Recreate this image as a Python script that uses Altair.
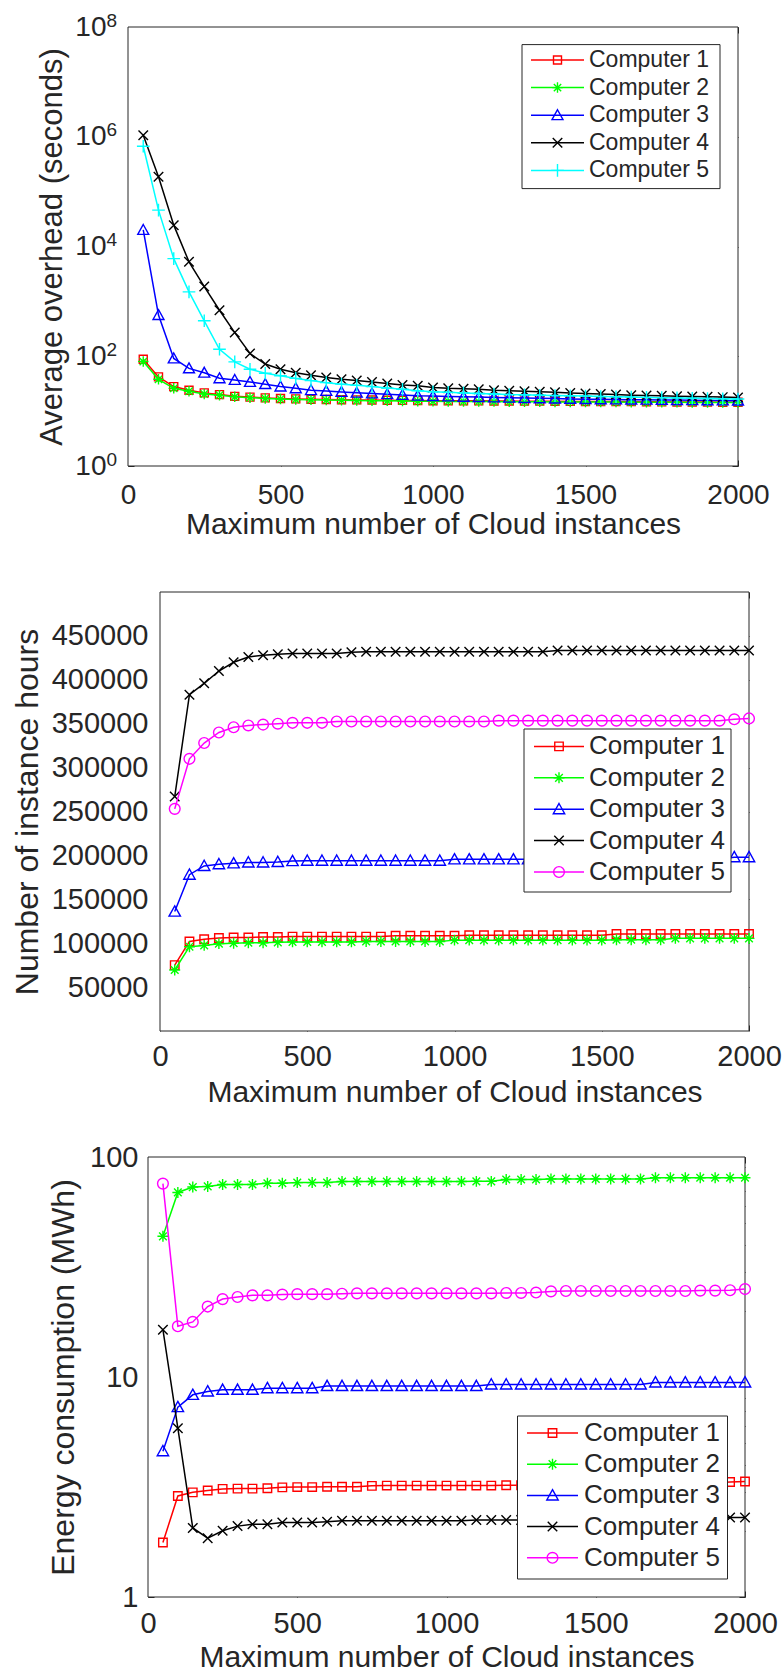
import altair as alt
import pandas as pd

FONT = "Liberation Sans"
INK = "#262626"
LW = 1.5          # line width of the series
MW = 1.4          # stroke width of the markers
CANVAS_W, CANVAS_H = 784, 1675

# x grid shared by all three panels: maximum number of Cloud instances
X_INSTANCES = [50, 100, 150, 200, 250, 300, 350, 400, 450, 500,
               550, 600, 650, 700, 750, 800, 850, 900, 950, 1000,
               1050, 1100, 1150, 1200, 1250, 1300, 1350, 1400, 1450, 1500,
               1550, 1600, 1650, 1700, 1750, 1800, 1850, 1900, 1950, 2000]
X_TICKS = [0, 500, 1000, 1500, 2000]
NAMES = ["Computer 1", "Computer 2", "Computer 3", "Computer 4", "Computer 5"]
X_TITLE = "Maximum number of Cloud instances"

# --- Average overhead (seconds) ---
OVERHEAD_C1 = [88, 42, 28, 24, 21.5, 20, 18.6, 18, 17.4, 17, 16.7, 16.5, 16.3, 16.1, 16, 15.9,
               15.8, 15.7, 15.6, 15.5, 15.45, 15.4, 15.4, 15.3, 15.25, 15.2, 15.2, 15.1, 15.05,
               15, 14.95, 14.9, 14.9, 14.8, 14.75, 14.7, 14.7, 14.6, 14.55, 14.5]
OVERHEAD_C2 = [80, 38, 26, 23, 20.5, 19.5, 18.2, 17.6, 17, 16.6, 16.3, 16.1, 15.9, 15.8, 15.6,
               15.5, 15.4, 15.3, 15.2, 15.1, 15.05, 15, 14.95, 14.9, 14.85, 14.8, 14.75, 14.7,
               14.7, 14.65, 14.6, 14.6, 14.55, 14.5, 14.5, 14.45, 14.4, 14.4, 14.35, 14.3]
OVERHEAD_C3 = [20000, 562, 91, 60, 50, 39.6, 37, 34, 31, 28, 26, 24, 23.3, 22.3, 21.6, 21,
               20.3, 19.7, 19.1, 18.8, 18.5, 18.2, 18, 17.7, 17.5, 17.3, 17.1, 16.9, 16.7,
               16.5, 16.4, 16.3, 16.2, 16.1, 16, 15.9, 15.8, 15.7, 15.6, 15.5]
OVERHEAD_C4 = [1.07e6, 1.86e5, 2.45e4, 5250, 1860, 690, 270, 112, 72, 58, 50, 45, 41, 38, 36,
               34, 32, 30, 29, 27, 26, 25.5, 25, 24, 23.5, 23, 22.5, 22, 21.5, 21, 20.5, 20,
               19.5, 19.2, 19, 18.7, 18.4, 18.2, 18, 17.8]
OVERHEAD_C5 = [6.7e5, 4.6e4, 6000, 1490, 443, 134, 79, 58, 49, 44, 39.5, 36, 33, 31, 29.5, 28,
               26.3, 25, 23.5, 22.5, 22, 21.5, 21, 20.5, 20, 19.8, 19.5, 19.2, 19, 18.8, 18.5,
               18.3, 18, 17.8, 17.6, 17.4, 17.2, 17, 16.8, 16.6]

# --- Number of instance hours ---
HOURS_C1 = [75000, 102000, 104500, 106000, 106500, 106500, 107000, 107000, 107500, 107500,
            107500, 107500, 107500, 107500, 107500, 108500, 108500, 108500, 108500, 108500,
            109000, 109000, 109000, 109000, 109000, 109000, 109000, 109000, 109000, 109000,
            110500, 110500, 110500, 110500, 110500, 110500, 110500, 110500, 110500, 110500]
HOURS_C2 = [69500, 96000, 97500, 99500, 100000, 100500, 100500, 101000, 101500, 101500,
            101500, 101500, 101500, 102000, 102000, 102000, 102000, 102000, 102000, 103500,
            103500, 103500, 103500, 103500, 103500, 103500, 103500, 103500, 103500, 103500,
            104000, 104000, 104000, 104000, 105500, 105500, 105500, 105500, 105500, 105500]
HOURS_C3 = [136000, 178000, 188000, 190000, 191000, 192000, 192000, 192500, 193500, 194000,
            194000, 194000, 194000, 194000, 194000, 194000, 194000, 194000, 194000, 195500,
            195500, 195500, 195500, 195500, 195500, 195500, 196000, 196000, 196000, 196000,
            196000, 196000, 196000, 196000, 196000, 196000, 196000, 196000, 198000, 198000]
HOURS_C4 = [267000, 383000, 396000, 410000, 420000, 426000, 428000, 429000, 430000, 430000,
            430000, 430000, 431500, 432000, 432000, 432000, 432000, 432000, 432000, 432000,
            432000, 432000, 432000, 432000, 432000, 432000, 433500, 433500, 433500, 433500,
            433500, 433500, 433500, 433500, 433500, 433500, 433500, 433500, 433500, 433500]
HOURS_C5 = [253000, 310000, 328000, 340000, 346000, 348000, 349000, 350000, 351000, 351000,
            351000, 352500, 352500, 352500, 352500, 352500, 352500, 352500, 352500, 352500,
            352500, 352500, 353500, 353500, 353500, 353500, 353500, 353500, 353500, 353500,
            353500, 353500, 353500, 353500, 353500, 353500, 353500, 353500, 355000, 356000]

# --- Energy consumption (MWh) ---
ENERGY_C1 = [1.77, 2.88, 2.99, 3.05, 3.1, 3.11, 3.11, 3.12, 3.15, 3.16, 3.16, 3.17, 3.17, 3.17,
             3.2, 3.21, 3.21, 3.21, 3.21, 3.21, 3.21, 3.21, 3.21, 3.22, 3.22, 3.23, 3.24, 3.24,
             3.25, 3.25, 3.26, 3.26, 3.27, 3.28, 3.28, 3.29, 3.3, 3.3, 3.33, 3.35]
ENERGY_C2 = [43.6, 69, 73, 73.5, 75, 75, 75, 76, 76, 76.5, 76.5, 76.5, 77.4, 77.4, 77.4, 77.4,
             77.4, 77.4, 77.4, 77.4, 77.4, 77.5, 77.5, 79, 79, 79, 79.5, 79.5, 79.5, 79.5, 79.5,
             79.5, 79.5, 80.5, 80.5, 80.5, 80.5, 80.5, 80.5, 80.5]
ENERGY_C3 = [4.6, 7.3, 8.3, 8.6, 8.75, 8.75, 8.75, 8.9, 8.9, 8.9, 8.9, 9.1, 9.1, 9.1, 9.1, 9.1,
             9.1, 9.1, 9.1, 9.1, 9.1, 9.1, 9.25, 9.25, 9.25, 9.25, 9.25, 9.25, 9.25, 9.25, 9.25,
             9.25, 9.25, 9.45, 9.45, 9.45, 9.45, 9.45, 9.45, 9.45]
ENERGY_C4 = [16.4, 5.85, 2.06, 1.85, 2.0, 2.1, 2.14, 2.14, 2.18, 2.18, 2.18, 2.2, 2.22, 2.22,
             2.22, 2.22, 2.22, 2.22, 2.22, 2.22, 2.22, 2.24, 2.24, 2.24, 2.24, 2.24, 2.25, 2.25,
             2.26, 2.26, 2.26, 2.27, 2.27, 2.27, 2.28, 2.28, 2.28, 2.28, 2.3, 2.3]
ENERGY_C5 = [75.7, 17.0, 17.8, 20.9, 22.6, 23.1, 23.5, 23.5, 23.7, 23.8, 23.8, 23.8, 23.9, 24.0,
             24.0, 24.0, 24.0, 24.0, 24.0, 24.0, 24.0, 24.0, 24.0, 24.1, 24.1, 24.2, 24.5, 24.6,
             24.6, 24.6, 24.6, 24.6, 24.6, 24.6, 24.6, 24.6, 24.7, 24.7, 24.8, 25.1]

# Marker glyphs as SVG paths in unit coordinates (scaled by sqrt(size)/2)
SQUARE = "M-1,-1H1V1H-1Z"
STAR = "M0,-1V1M-1,0H1M-0.7,-0.7L0.7,0.7M-0.7,0.7L0.7,-0.7"
TRIANGLE = "M0,-1L1,0.8L-1,0.8Z"
CROSS = "M-1,-1L1,1M-1,1L1,-1"
PLUS = "M0,-1V1M-1,0H1"

MARKERS_OVERHEAD = [("#ff0000", SQUARE, 64), ("#00ff00", STAR, 110), ("#0000ff", TRIANGLE, 120),
                    ("#000000", CROSS, 90), ("#00ffff", PLUS, 160)]
MARKERS_OTHER = [("#ff0000", SQUARE, 72), ("#00ff00", STAR, 120), ("#0000ff", TRIANGLE, 130),
                 ("#000000", CROSS, 90), ("#ff00ff", "circle", 115)]

ONE = pd.DataFrame({"k": [0]})


def axis(**kw):
    base = dict(domain=False, grid=False, tickColor=INK, tickWidth=1, labelColor=INK,
                labelFont=FONT, titleColor=INK, titleFont=FONT, titleFontWeight="normal",
                labelOverlap=False, labelFlush=False)
    base.update(kw)
    return alt.Axis(**base)


def panel(box, series, markers, y_domain, y_type, y_values, fonts, pads, titles, title_pos,
          legend, y_label_expr=None, y_format="d", minor=None, exponent=False, y_title_size=32):
    """All layers of one framed plot; `box` = (left, top, right, bottom) on the canvas."""
    L, T, R, B = box
    xfont, yfont = fonts
    xpad, ypad = pads
    x_title, y_title = titles
    x_base, y_base = title_pos           # absolute baselines of the axis titles
    xs = alt.Scale(domain=[0, 2000], range=[L, R], nice=False, zero=False)
    ykw = dict(domain=y_domain, range=[B, T], nice=False)
    if y_type == "log":
        ykw["type"] = "log"
    else:
        ykw["zero"] = False
    ys = alt.Scale(**ykw)

    off_left = -(L + 6)
    off_right = -(CANVAS_W - R + 6)
    off_top = -(T + 6)
    off_bottom = -(CANVAS_H - B + 6)

    bottom = axis(orient="bottom", values=X_TICKS, tickSize=6, offset=off_bottom,
                  labelFontSize=xfont, labelPadding=xpad, format="d", title=x_title,
                  titleFontSize=30, titleBaseline="alphabetic", titleAlign="center",
                  titleX=(L + R) / 2, titleY=x_base - (B - 6))
    top = axis(orient="top", values=X_TICKS, tickSize=6, offset=off_top, labels=False, title=None)
    left_kw = dict(orient="left", values=y_values, tickSize=6, offset=off_left,
                   labelFontSize=yfont, labelPadding=ypad, title=y_title,
                   titleFontSize=y_title_size, titleAngle=270, titleBaseline="alphabetic",
                   titleAlign="center", titleX=y_base - (L + 6), titleY=(T + B) / 2)
    if y_label_expr:
        left_kw["labelExpr"] = y_label_expr
    else:
        left_kw["format"] = y_format
    left = axis(**left_kw)
    right = axis(orient="right", values=y_values, tickSize=6, offset=off_right, labels=False,
                 title=None)

    frames = [pd.DataFrame({"x": X_INSTANCES, "y": v}) for v in series]

    def carrier(xa, ya):
        return alt.Chart(frames[0]).mark_point(opacity=0, size=0).encode(
            x=alt.X("x:Q", scale=xs, axis=xa), y=alt.Y("y:Q", scale=ys, axis=ya))

    layers = [
        alt.Chart(ONE).mark_rect(fill="white", stroke=INK, strokeWidth=1).encode(
            x=alt.value(L), x2=alt.value(R), y=alt.value(T), y2=alt.value(B)),
        carrier(bottom, left),
        carrier(top, right),
    ]
    if exponent:
        layers.append(carrier(None, axis(
            orient="left", values=y_values, ticks=False, offset=off_left, labelFontSize=19,
            labelPadding=28, labelAlign="left", labelBaseline="middle", labelOffset=-7,
            labelExpr="'' + round(log(datum.value) / LN10)", title=None)))
    if minor:
        layers.append(carrier(None, axis(orient="left", values=minor, tickSize=3.5,
                                         offset=-(L + 3.5), labels=False, title=None)))
        layers.append(carrier(None, axis(orient="right", values=minor, tickSize=3.5,
                                         offset=-(CANVAS_W - R + 3.5), labels=False, title=None)))

    for df, (color, shape, size) in zip(frames, markers):
        enc = dict(x=alt.X("x:Q", scale=xs, axis=None), y=alt.Y("y:Q", scale=ys, axis=None))
        layers.append(alt.Chart(df).mark_line(color=color, strokeWidth=LW).encode(**enc))
        layers.append(alt.Chart(df).mark_point(shape=shape, size=size, filled=False, color=color,
                                               strokeWidth=MW, opacity=1).encode(**enc))

    # legend: framed box, sample line + marker, label
    (bx0, by0, bx1, by1), (lx0, lx1), first_y, step, text_x, lfont = legend
    layers.append(alt.Chart(ONE).mark_rect(fill="white", stroke=INK, strokeWidth=1).encode(
        x=alt.value(bx0), x2=alt.value(bx1), y=alt.value(by0), y2=alt.value(by1)))
    for i, (name, (color, shape, size)) in enumerate(zip(NAMES, markers)):
        yy = first_y + i * step
        layers.append(alt.Chart(ONE).mark_rule(color=color, strokeWidth=LW).encode(
            x=alt.value(lx0), x2=alt.value(lx1), y=alt.value(yy)))
        layers.append(alt.Chart(ONE).mark_point(shape=shape, size=size, filled=False, color=color,
                                                strokeWidth=MW, opacity=1).encode(
            x=alt.value((lx0 + lx1) / 2), y=alt.value(yy)))
        layers.append(alt.Chart(ONE).mark_text(align="left", baseline="middle", font=FONT,
                                               fontSize=lfont, color=INK).encode(
            x=alt.value(text_x), y=alt.value(yy), text=alt.value(name)))
    return layers


# Panel 1: average overhead, log scale 10^0 .. 10^8
layers1 = panel(
    (128, 27, 738, 466), [OVERHEAD_C1, OVERHEAD_C2, OVERHEAD_C3, OVERHEAD_C4, OVERHEAD_C5],
    MARKERS_OVERHEAD, [1, 1e8], "log", [1, 1e2, 1e4, 1e6, 1e8], (28, 28), (15, 22),
    (X_TITLE, "Average overhead (seconds)"), (533, 61),
    ((522, 44.6, 720, 188.6), (531, 584), 60, 27.6, 589, 23),
    y_label_expr="'10'", exponent=True, y_title_size=31)

# Panel 2: instance hours, linear scale 0 .. 500000
layers2 = panel(
    (160, 592, 749, 1031), [HOURS_C1, HOURS_C2, HOURS_C3, HOURS_C4, HOURS_C5],
    MARKERS_OTHER, [0, 500000], "linear",
    [50000, 100000, 150000, 200000, 250000, 300000, 350000, 400000, 450000], (29, 29), (11, 12),
    (X_TITLE, "Number of instance hours"), (1101, 37),
    ((524, 729, 731, 892), (534, 584), 746.4, 31.4, 589, 26))

# Panel 3: energy consumption, log scale 1 .. 100 with minor ticks
layers3 = panel(
    (148, 1157, 745, 1597), [ENERGY_C1, ENERGY_C2, ENERGY_C3, ENERGY_C4, ENERGY_C5],
    MARKERS_OTHER, [1, 100], "log", [1, 10, 100], (29, 29), (12, 10),
    (X_TITLE, "Energy consumption (MWh)"), (1666.5, 73.5),
    ((517.5, 1416, 727.5, 1579), (527, 578), 1433, 31.2, 584, 26),
    minor=[2, 3, 4, 5, 6, 7, 8, 9, 20, 30, 40, 50, 60, 70, 80, 90])

chart = alt.layer(*(layers1 + layers2 + layers3)).resolve_scale(
    x="independent", y="independent"
).resolve_axis(
    x="independent", y="independent"
).properties(
    width=CANVAS_W, height=CANVAS_H, padding=0, background="white",
    autosize=alt.AutoSizeParams(type="none")
).configure_view(stroke="transparent")

chart.save("out.html", embed_options={"renderer": "svg", "actions": False})
